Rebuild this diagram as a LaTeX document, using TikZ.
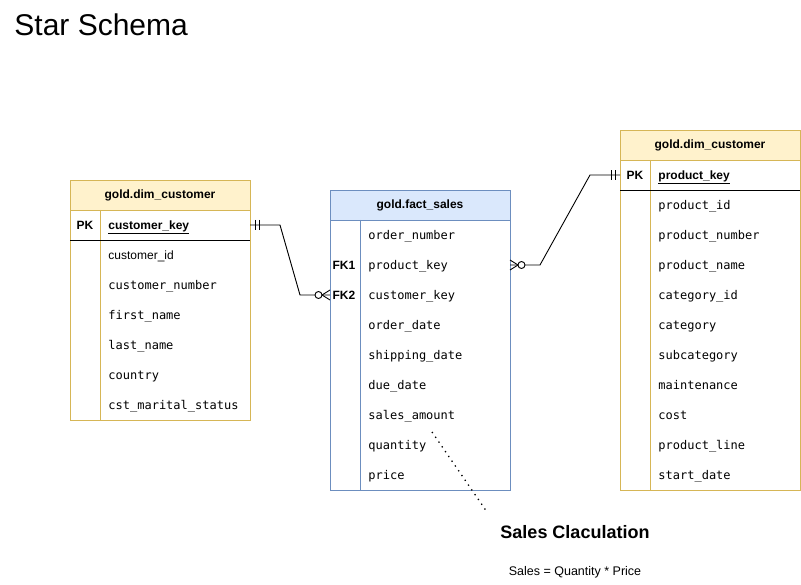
\documentclass[tikz,border=0pt]{standalone}
\usepackage{fontspec}
\setmainfont{Liberation Sans}
\setmonofont{DejaVu Sans Mono}
\usetikzlibrary{positioning}
\definecolor{dimfill}{HTML}{FFF2CC}
\definecolor{dimline}{HTML}{D6B656}
\definecolor{factfill}{HTML}{DAE8FC}
\definecolor{factline}{HTML}{6C8EBF}
\tikzset{
  head/.style={minimum width=180pt, minimum height=30pt, inner sep=0pt, outer sep=0pt,
    font=\bfseries\fontsize{12}{14}\selectfont},
  dimhead/.style={head, draw=dimline, fill=dimfill},
  facthead/.style={head, draw=factline, fill=factfill},
  body/.style={minimum width=180pt, inner sep=0pt, outer sep=0pt},
  field/.style={anchor=west, inner sep=0pt, text height=9.5pt, text depth=1pt,
    font=\ttfamily\fontsize{12}{14}\selectfont},
  keyfield/.style={field, font=\bfseries\fontsize{12}{14}\selectfont},
  keytag/.style={inner sep=0pt, text height=9.5pt, text depth=1pt, font=\bfseries\fontsize{12}{14}\selectfont},
  erone/.pic={\draw (5,-5) -- (5,5) (9,-5) -- (9,5);},
  ermany/.pic={\draw (0,-5) -- (8,0) -- (0,5); \draw[fill=white] (11.5,0) circle (3.5);},
  dotline/.style={line width=1.3pt, dash pattern=on 1.3pt off 4.5pt},
}
\begin{document}
\begin{tikzpicture}[x=1pt,y=-1pt,line width=0.9pt]
  \useasboundingbox (0,0) rectangle (801,585);
  \node[anchor=west, inner sep=0pt, font=\fontsize{30}{35}\selectfont] (title) at (14,25) {Star Schema};

  \node[dimhead] (custhead) at (160,195) {gold.dim\_customer};
  \node[body, draw=dimline, minimum height=210pt, below=0pt of custhead] (custbody) {};
  \draw[dimline] ([xshift=30pt]custbody.north west) -- ([xshift=30pt]custbody.south west);
  \draw ([yshift=-30pt]custbody.north west) -- ([yshift=-30pt]custbody.north east);
  \node[keytag] (custpk) at (85,225) {PK};
  \node[keyfield] (custkey) at (108,225) {\underline{customer\_key}};
  \node[field, font=\fontsize{12}{14}\selectfont] (cust1) at (108,255) {customer\_id};
  \foreach \t [count=\i from 2] in {customer\_number, first\_name, last\_name, country, cst\_marital\_status}
    \node[field] (cust\i) at (108,225+30*\i) {\t};

  \node[facthead] (facthead) at (420,205) {gold.fact\_sales};
  \node[body, draw=factline, minimum height=270pt, below=0pt of facthead] (factbody) {};
  \draw[factline] ([xshift=30pt]factbody.north west) -- ([xshift=30pt]factbody.south west);
  \node[keytag] (factfk1) at (344,265) {FK1};
  \node[keytag] (factfk2) at (344,295) {FK2};
  \foreach \t [count=\i] in {order\_number, product\_key, customer\_key, order\_date, shipping\_date, due\_date, sales\_amount, quantity, price}
    \node[field] (fact\i) at (368,205+30*\i) {\t};

  \node[dimhead] (prodhead) at (710,145) {gold.dim\_customer};
  \node[body, draw=dimline, minimum height=330pt, below=0pt of prodhead] (prodbody) {};
  \draw[dimline] ([xshift=30pt]prodbody.north west) -- ([xshift=30pt]prodbody.south west);
  \draw ([yshift=-30pt]prodbody.north west) -- ([yshift=-30pt]prodbody.north east);
  \node[keytag] (prodpk) at (635,175) {PK};
  \node[keyfield] (prodkey) at (658,175) {\underline{product\_key}};
  \foreach \t [count=\i] in {product\_id, product\_number, product\_name, category\_id, category, subcategory, maintenance, cost, product\_line, start\_date}
    \node[field] (prod\i) at (658,175+30*\i) {\t};

  \coordinate (lbend1) at (280,225);
  \coordinate (lbend2) at (300,295);
  \draw (custbody.east |- custpk) -- (lbend1) -- (lbend2) -- (factbody.west |- factfk2);
  \pic at (custbody.east |- custpk) {erone};
  \pic[rotate=180] at (factbody.west |- factfk2) {ermany};

  \coordinate (rbend1) at (540,265);
  \coordinate (rbend2) at (590,175);
  \draw (factbody.east |- factfk1) -- (rbend1) -- (rbend2) -- (prodbody.west |- prodpk);
  \pic at (factbody.east |- factfk1) {ermany};
  \pic[rotate=180] at (prodbody.west |- prodpk) {erone};

  \node[font=\bfseries\fontsize{18}{22}\selectfont, inner sep=0pt] (calc) at (575,532) {Sales Claculation};
  \node[font=\fontsize{12.5}{15}\selectfont, inner sep=0pt] (formula) at (575,572) {Sales = Quantity * Price};
  \coordinate (dotstart) at (432,432);
  \coordinate (dotend) at (487,512);
  \draw[dotline] (dotstart) -- (dotend);
\end{tikzpicture}
\end{document}
